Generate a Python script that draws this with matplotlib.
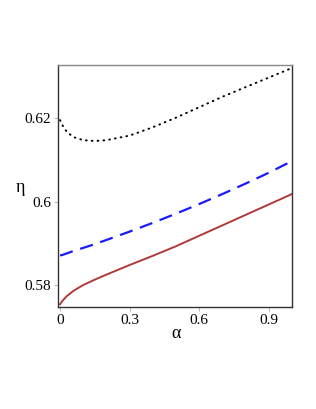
import matplotlib.pyplot as plt

# values
alpha = [0, 0.01, 0.03, 0.06, 0.1, 0.15, 0.2, 0.3, 0.4, 0.5, 0.6, 0.7, 0.8, 0.9, 1.0]
eta_solid = [0.5754, 0.5762, 0.5774, 0.5787, 0.5800, 0.5813, 0.5825, 0.5848,
             0.5870, 0.5893, 0.5918, 0.5943, 0.5968, 0.5993, 0.6018]
eta_dashed = [0.5871, 0.5872, 0.5876, 0.5882, 0.5889, 0.5898, 0.5908, 0.5928,
              0.5949, 0.5971, 0.5994, 0.6018, 0.6043, 0.6069, 0.6097]
eta_dotted = [0.6195, 0.6183, 0.6166, 0.6154, 0.6147, 0.6145, 0.6147, 0.6158,
              0.6178, 0.6201, 0.6226, 0.6251, 0.6274, 0.6297, 0.6320]

xticks = [0, 0.3, 0.6, 0.9]
xticklabels = ['0', '0.3', '0.6', '0.9']
yticks = [0.58, 0.6, 0.62]
yticklabels = ['0.58', '0.6', '0.62']

plt.rcParams['font.family'] = 'Liberation Serif'

fig = plt.figure(figsize=(3.16, 4.09), dpi=100)
ax = fig.add_axes([0.1835, 0.249, 0.7405, 0.592])

ax.plot(alpha, eta_solid, color='#b03a3a', lw=1.4)
ax.plot(alpha, eta_dashed, color='#1a1aff', lw=1.6, dashes=(6, 3.5))
ax.plot(alpha, eta_dotted, color='black', lw=1.4, linestyle=(0, (0.4, 2.6)),
        dash_capstyle='round')

ax.set_xlim(-0.009, 1.0)
ax.set_ylim(0.5747, 0.6327)
ax.set_xticks(xticks)
ax.set_xticklabels(xticklabels)
ax.set_yticks(yticks)
ax.set_yticklabels(yticklabels)
ax.tick_params(axis='both', labelsize=11, length=3, width=0.6,
               color='#aaaaaa', pad=2)

for side in ['left', 'bottom', 'right']:
    ax.spines[side].set_color('#333333')
    ax.spines[side].set_linewidth(1.0)
ax.spines['top'].set_color('#888888')
ax.spines['top'].set_linewidth(1.0)

fig.text(20 / 316, 1 - 188 / 409, '\u03b7', fontsize=13, ha='center', va='center')
fig.text(176 / 316, 1 - 334 / 409, '\u03b1', fontsize=13, ha='center', va='center')

fig.savefig('out.png', dpi=100)
